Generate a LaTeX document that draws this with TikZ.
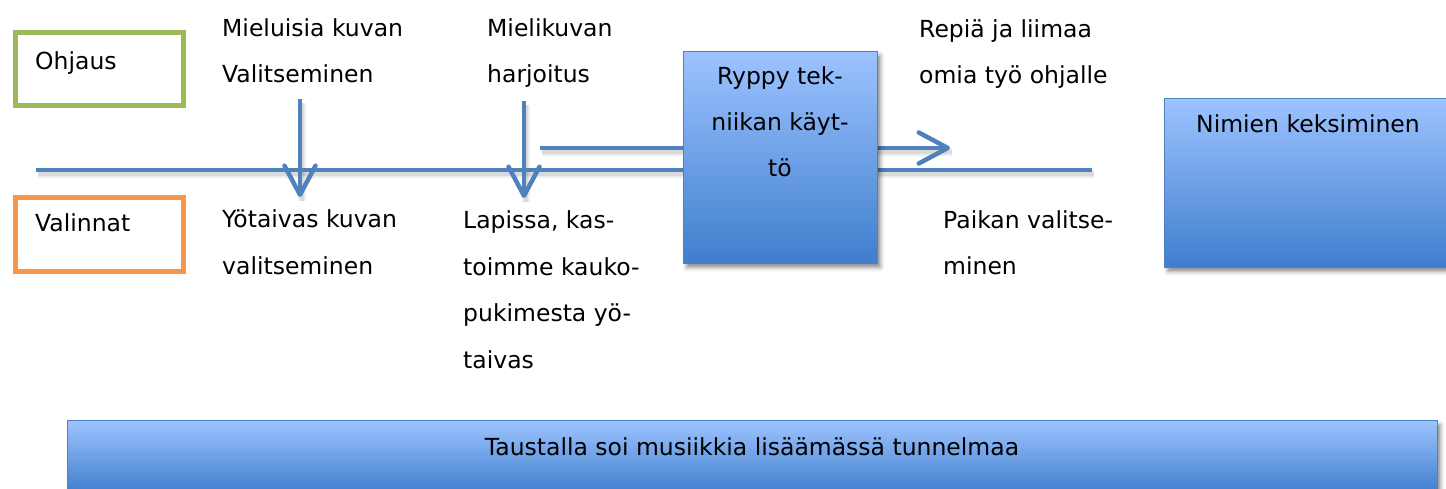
\documentclass[tikz,border=0pt]{standalone}
\usepackage{fontspec}
\setmainfont{DejaVu Sans}
\usetikzlibrary{arrows.meta,shadows.blur}
\definecolor{lineblue}{RGB}{79,129,189}
\definecolor{gtop}{RGB}{157,195,255}
\definecolor{gbot}{RGB}{63,126,205}
\definecolor{ogreen}{RGB}{155,187,89}
\definecolor{oorange}{RGB}{247,150,70}
\begin{document}
\begin{tikzpicture}[x=1pt,y=-1pt,
  txt/.style={font=\fontsize{23.5}{46.5}\selectfont, inner sep=0pt, align=left, anchor=base west},
  ctxt/.style={font=\fontsize{23.5}{46}\selectfont, inner sep=0pt, align=center, anchor=base},
  flow/.style={draw=lineblue, line width=4.5pt},
  shline/.style={draw=black, opacity=0.07, line width=8pt, transform canvas={shift={(1.5pt,-4pt)}}},
  shlineb/.style={draw=black, opacity=0.08, line width=4pt, transform canvas={shift={(1.5pt,-4pt)}}},
  gbox/.style={draw=lineblue, line width=1.2pt, top color=gtop, bottom color=gbot, inner sep=0pt, anchor=north west,
     blur shadow={shadow xshift=3pt, shadow yshift=-4pt, shadow blur radius=4pt, shadow opacity=45}},
  tipv/.style={-{Straight Barb[length=29pt,width=31pt,round]}},
  labbox/.style={line width=5pt, fill=white, inner sep=0pt, anchor=north west, minimum width=168pt, minimum height=73pt}
]
\useasboundingbox (0,0) rectangle (1446,489);

% label boxes
\node[labbox, draw=ogreen] (ohjbox) at (12.5,30.5) {};
\node[labbox, draw=oorange] (valbox) at (12.5,195.5) {};
\node[txt] (ohj) at (35,70) {Ohjaus};
\node[txt] (val) at (35,232) {Valinnat};

% coordinates
\coordinate (m1) at (36,170);
\coordinate (m2) at (1092,170);
\coordinate (a1s) at (300,99);
\coordinate (a1e) at (300,197);
\coordinate (a2s) at (524,101);
\coordinate (a2e) at (524,198);
\coordinate (u1) at (540,148);
\coordinate (u2) at (950,148);

% shadows of lines
\foreach \s in {shline,shlineb}{
  \draw[\s] (m1) -- (m2);
  \draw[\s] (a1s) -- (a1e);
  \draw[\s] (a2s) -- (a2e);
  \draw[\s] (u1) -- (u2);
}

% lines
\draw[flow] (m1) -- (m2);
\draw[flow, tipv] (u1) -- (u2);
\draw[flow, tipv] (a1s) -- (a1e);
\draw[flow, tipv] (a2s) -- (a2e);

% gradient boxes
\node[gbox, minimum width=194pt, minimum height=212pt] (ryppy) at (683,51) {};
\node[ctxt] (ryppyt) at (780,177) {Ryppy tek-\\niikan käyt-\\tö};
\node[gbox, minimum width=300pt, minimum height=169pt] (nimi) at (1164,98) {};
\node[ctxt] (nimit) at (1308,133) {Nimien keksiminen};
\node[gbox, minimum width=1370pt, minimum height=73pt] (tausta) at (67,420) {};
\node[ctxt] (taustat) at (752,455) {Taustalla soi musiikkia lisäämässä tunnelmaa};

% texts (anchor at the baseline of the last line)
\node[txt] (t1) at (222,83) {Mieluisia kuvan\\Valitseminen};
\node[txt] (t2) at (487,83) {Mielikuvan\\harjoitus};
\node[txt] (t3) at (919,84) {Repiä ja liimaa\\omia työ ohjalle};
\node[txt] (b1) at (222,274) {Yötaivas kuvan\\valitseminen};
\node[txt] (b2) at (463,368) {Lapissa, kas-\\toimme kauko-\\pukimesta yö-\\taivas};
\node[txt] (b3) at (943,275) {Paikan valitse-\\minen};
\end{tikzpicture}
\end{document}
